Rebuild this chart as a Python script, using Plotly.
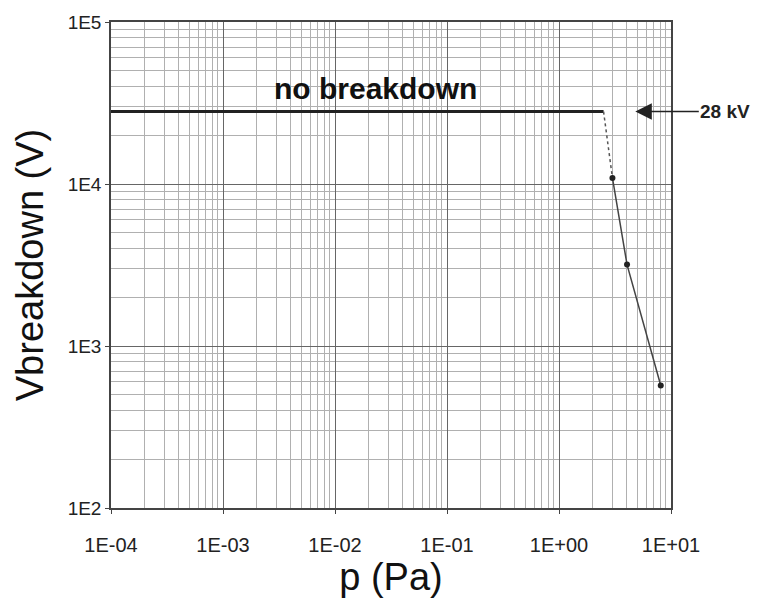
import plotly.graph_objects as go
import numpy as np

# data
flat_p = [1e-4, 2.5]
flat_v = [28000, 28000]
link_p = [2.5, 3.0]
link_v = [28000, 10900]
meas_p = [3.0, 4.05, 8.1]
meas_v = [10900, 3180, 570]

x_tickvals = [1e-4, 1e-3, 1e-2, 1e-1, 1e0, 1e1]
x_ticktext = ["1E-04", "1E-03", "1E-02", "1E-01", "1E+00", "1E+01"]
y_tickvals = [1e2, 1e3, 1e4, 1e5]
y_ticktext = ["1E2", "1E3", "1E4", "1E5"]

fig = go.Figure()
fig.add_trace(go.Scatter(x=flat_p, y=flat_v, mode="lines",
                         line=dict(color="#222", width=3), showlegend=False))
fig.add_trace(go.Scatter(x=link_p, y=link_v, mode="lines",
                         line=dict(color="#555", width=1.5, dash="dot"), showlegend=False))
fig.add_trace(go.Scatter(x=meas_p, y=meas_v, mode="lines+markers",
                         line=dict(color="#444", width=1.5),
                         marker=dict(color="#222", size=6), showlegend=False))

fig.add_annotation(x=np.log10(4.8), y=np.log10(28000), xref="x", yref="y",
                   text="<b>28 kV</b>", showarrow=True, ax=90, ay=0,
                   arrowhead=2, arrowsize=2.2, arrowwidth=1.5, arrowcolor="#222",
                   font=dict(family="Liberation Sans", size=19, color="#222"))
fig.add_annotation(x=np.log10(0.0228), y=np.log10(38800), xref="x", yref="y",
                   text="<b>no breakdown</b>", showarrow=False,
                   font=dict(family="Liberation Sans", size=30, color="#111"))

axis_common = dict(type="log", showline=True, linecolor="#444", linewidth=1.5,
                   mirror=True, showgrid=True, gridcolor="#666", gridwidth=1,
                   ticks="outside", ticklen=4, tickcolor="#444",
                   minor=dict(showgrid=True, gridcolor="#b0b0b0", gridwidth=1,
                              dtick="D1", ticks=""),
                   zeroline=False)

fig.update_xaxes(**axis_common, range=[-4, 1], tickvals=x_tickvals, ticktext=x_ticktext,
                 tickfont=dict(family="Liberation Sans", size=20, color="#222"),
                 ticklabelstandoff=14,
                 title=dict(text="p (Pa)", font=dict(family="Liberation Sans", size=38, color="#111"),
                            standoff=6))
fig.update_yaxes(**axis_common, range=[2, 5], tickvals=y_tickvals, ticktext=y_ticktext,
                 tickfont=dict(family="Liberation Sans", size=19, color="#222"),
                 title=dict(text="Vbreakdown (V)", font=dict(family="Liberation Sans", size=38, color="#111"),
                            standoff=12))

fig.update_layout(width=760, height=603, margin=dict(l=111, r=89, t=18, b=95),
                  paper_bgcolor="white", plot_bgcolor="white")
fig.write_html("out.html")
